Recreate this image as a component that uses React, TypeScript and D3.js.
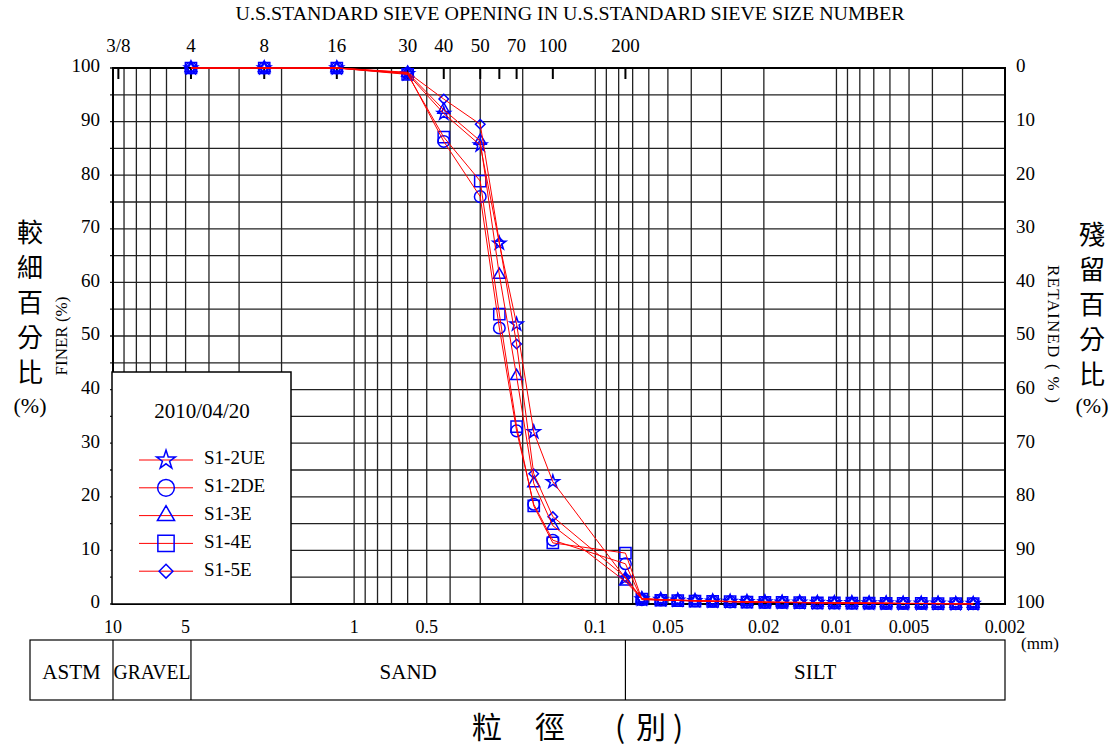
import React from "react";
import * as d3 from "d3";

const sieveSizes = [4.75, 2.36, 1.18, 0.6, 0.425, 0.3, 0.25, 0.212, 0.18, 0.15, 0.075];
const hydroSizes = [0.0641, 0.0535, 0.0455, 0.0386, 0.0326, 0.0276, 0.0235, 0.0198, 0.0168, 0.0142,
  0.0120, 0.0102, 0.00863, 0.00732, 0.00622, 0.00529, 0.00445, 0.00379, 0.0032, 0.00271];

const s12UE = [100, 100, 100, 98.9, 91.5, 85.6, 67.3, 52.2, 32.1, 22.8, 4.8];
const s12DE = [100, 100, 100, 99.0, 86.3, 76.0, 51.5, 32.3, 18.6, 11.9, 7.5];
const s13E = [100, 100, 100, 99.1, 92.2, 86.4, 61.4, 42.5, 22.5, 14.6, 4.2];
const s14E = [100, 100, 100, 98.8, 87.1, 78.9, 54.1, 33.1, 18.3, 11.4, 9.5];
const s15E = [100, 100, 100, 99.2, 94.2, 89.5, 67.5, 48.5, 24.3, 16.3, 5.0];

const h12UE = [0.9, 0.8, 0.7, 0.6, 0.5, 0.45, 0.4, 0.35, 0.3, 0.3, 0.25, 0.2, 0.2, 0.15, 0.15, 0.1, 0.1, 0.1, 0.05, 0.05];
const h12DE = [0.8, 0.75, 0.65, 0.6, 0.5, 0.4, 0.4, 0.3, 0.3, 0.25, 0.2, 0.2, 0.15, 0.15, 0.1, 0.1, 0.1, 0.05, 0.05, 0.05];
const h13E = [1.0, 0.8, 0.7, 0.6, 0.55, 0.45, 0.4, 0.35, 0.3, 0.3, 0.25, 0.2, 0.2, 0.15, 0.15, 0.1, 0.1, 0.1, 0.05, 0.05];
const h14E = [0.9, 0.7, 0.65, 0.55, 0.5, 0.45, 0.35, 0.3, 0.3, 0.25, 0.2, 0.2, 0.15, 0.15, 0.1, 0.1, 0.1, 0.05, 0.05, 0.05];
const h15E = [1.0, 0.85, 0.75, 0.65, 0.55, 0.5, 0.4, 0.35, 0.3, 0.3, 0.25, 0.2, 0.2, 0.15, 0.15, 0.1, 0.1, 0.1, 0.05, 0.05];

const seriesNames = ["S1-2UE", "S1-2DE", "S1-3E", "S1-4E", "S1-5E"];
const seriesSieve = [s12UE, s12DE, s13E, s14E, s15E];
const seriesHydro = [h12UE, h12DE, h13E, h14E, h15E];

const sieveLabels = ["3/8", "4", "8", "16", "30", "40", "50", "70", "100", "200"];
const sieveLabelSizes = [9.5, 4.75, 2.36, 1.18, 0.6, 0.425, 0.3, 0.212, 0.15, 0.075];
const sieveTickSizes = [9.5, 4.75, 2.36, 1.18, 0.6, 0.425, 0.3, 0.25, 0.212, 0.15, 0.075];

const bottomTicks = [10, 5, 1, 0.5, 0.1, 0.05, 0.02, 0.01, 0.005, 0.002];
const yTicks = [0, 10, 20, 30, 40, 50, 60, 70, 80, 90, 100];

const classBounds = [10, 4.75, 0.075, 0.002];
const classNames = ["GRAVEL", "SAND", "SILT"];

const SERIF = "'Liberation Serif', 'Times New Roman', serif";
const CJK = "'Noto Sans CJK TC', 'Noto Sans CJK SC', sans-serif";

const L = 113, R = 1005, T = 68, B = 604;

function symbolFor(i: number, size: number) {
  const types = [d3.symbolStar, d3.symbolCircle, d3.symbolTriangle, d3.symbolSquare, (d3 as any).symbolDiamond2 || d3.symbolDiamond];
  const sizes = [size * 0.5, size, size * 0.58, size * 1.2, size * 0.55];
  return d3.symbol().type(types[i]).size(sizes[i])() as string;
}

export default function App() {
  const x = d3.scaleLog().domain([10, 0.002]).range([L, R]);
  const y = d3.scaleLinear().domain([0, 100]).range([B, T]);

  const gridX: number[] = [];
  for (let e = 1; e >= -3; e--) {
    for (let m = 1; m <= 9; m++) {
      const v = m * Math.pow(10, e - 1);
      if (v <= 10 && v >= 0.002) gridX.push(v);
    }
  }
  gridX.push(10);
  const gridY = d3.range(0, 101, 5);

  const line = d3.line<[number, number]>().x(d => x(d[0])).y(d => y(d[1]));
  const allSizes = sieveSizes.concat(hydroSizes);
  const series = seriesNames.map((n, i) => ({
    name: n,
    pts: allSizes.map((s, j) => [s, j < sieveSizes.length ? seriesSieve[i][j] : seriesHydro[i][j - sieveSizes.length]] as [number, number]),
  }));

  const legendRows = seriesNames.map((n, i) => ({ n, i, yy: 460 + i * 27.8 }));

  return (
    <svg width={1117} height={749} style={{ position: "absolute", left: 0, top: 0, background: "#fff" }}>
      <rect x={0} y={0} width={1117} height={749} fill="#fff" />
      {/* grid */}
      {gridY.map(v => (
        <line key={"gy" + v} x1={L - 3} x2={R} y1={y(v)} y2={y(v)} stroke="#222" strokeWidth={1.3} />
      ))}
      {gridX.map((v, k) => (
        <line key={"gx" + k} x1={x(v)} x2={x(v)} y1={T} y2={B} stroke="#222" strokeWidth={1.3} />
      ))}
      {/* sieve ticks */}
      {sieveTickSizes.map((v, k) => (
        <line key={"st" + k} x1={x(v)} x2={x(v)} y1={T} y2={T + 11} stroke="#000" strokeWidth={2} />
      ))}
      <rect x={L} y={T} width={R - L} height={B - T} fill="none" stroke="#000" strokeWidth={2} />

      {/* markers */}
      {series.map((s, i) => (
        <g key={"m" + i}>
          {s.pts.map((p, j) => (
            <path key={j} d={symbolFor(i, 105)} transform={`translate(${x(p[0])},${y(p[1])})`} fill="none" stroke="#0000ff" strokeWidth={1.5} />
          ))}
        </g>
      ))}
      {/* lines */}
      {series.map((s, i) => (
        <path key={"l" + i} d={line(s.pts) as string} fill="none" stroke="#ff0000" strokeWidth={1} />
      ))}

      {/* legend */}
      <rect x={112} y={372} width={179} height={232} fill="#fff" stroke="#000" strokeWidth={1.5} />
      <text x={202} y={413} fontFamily={SERIF} fontSize={21} textAnchor="middle" dominantBaseline="middle">2010/04/20</text>
      {legendRows.map(r => (
        <g key={"lg" + r.i}>
          <line x1={139} x2={193} y1={r.yy} y2={r.yy} stroke="#ff0000" strokeWidth={1} />
          <path d={symbolFor(r.i, 220)} transform={`translate(166,${r.yy})`} fill="none" stroke="#0000ff" strokeWidth={1.5} />
          <text x={204} y={r.yy} fontFamily={SERIF} fontSize={19} dominantBaseline="middle">{r.n}</text>
        </g>
      ))}

      {/* title */}
      <text x={570} y={16} fontFamily={SERIF} fontSize={18} textAnchor="middle" dominantBaseline="middle" textLength={669} lengthAdjust="spacingAndGlyphs">U.S.STANDARD SIEVE OPENING IN U.S.STANDARD SIEVE SIZE NUMBER</text>
      {sieveLabels.map((t, k) => (
        <text key={"sl" + k} x={x(sieveLabelSizes[k])} y={48} fontFamily={SERIF} fontSize={19} textAnchor="middle" dominantBaseline="middle">{t}</text>
      ))}

      {/* y axes */}
      {yTicks.map(v => (
        <text key={"yl" + v} x={100} y={y(v)} fontFamily={SERIF} fontSize={19} textAnchor="end" dominantBaseline="middle">{v}</text>
      ))}
      {yTicks.map(v => (
        <text key={"yr" + v} x={1016} y={y(v)} fontFamily={SERIF} fontSize={19} textAnchor="start" dominantBaseline="middle">{100 - v}</text>
      ))}

      {/* bottom ticks */}
      {bottomTicks.map((v, k) => (
        <text key={"bt" + k} x={x(v)} y={629} fontFamily={SERIF} fontSize={18} textAnchor="middle" dominantBaseline="middle">{String(v)}</text>
      ))}
      <text x={1040} y={645} fontFamily={SERIF} fontSize={17} textAnchor="middle" dominantBaseline="middle">(mm)</text>

      {/* left label */}
      {["較", "細", "百", "分", "比"].map((c, k) => (
        <text key={"lc" + k} x={30} y={235 + k * 35} fontFamily={CJK} fontSize={26} textAnchor="middle" dominantBaseline="middle">{c}</text>
      ))}
      <text x={30} y={408} fontFamily={SERIF} fontSize={22} textAnchor="middle" dominantBaseline="middle">(%)</text>
      <text transform="translate(63,336) rotate(-90)" fontFamily={SERIF} fontSize={17} textAnchor="middle" dominantBaseline="middle">FINER (%)</text>

      {/* right label */}
      {["殘", "留", "百", "分", "比"].map((c, k) => (
        <text key={"rc" + k} x={1092} y={237 + k * 35} fontFamily={CJK} fontSize={26} textAnchor="middle" dominantBaseline="middle">{c}</text>
      ))}
      <text x={1092} y={408} fontFamily={SERIF} fontSize={22} textAnchor="middle" dominantBaseline="middle">(%)</text>
      <text transform="translate(1052,334) rotate(90)" fontFamily={SERIF} fontSize={17} textAnchor="middle" dominantBaseline="middle" textLength={138} lengthAdjust="spacing">RETAINED ( % )</text>

      {/* classification table */}
      <rect x={30} y={640} width={R - 30} height={60} fill="none" stroke="#000" strokeWidth={1.2} />
      <line x1={L} x2={L} y1={640} y2={700} stroke="#000" strokeWidth={1.2} />
      {classBounds.slice(1, 3).map((v, k) => (
        <line key={"cb" + k} x1={x(v)} x2={x(v)} y1={640} y2={700} stroke="#000" strokeWidth={1.2} />
      ))}
      <text x={(30 + L) / 2} y={674} fontFamily={SERIF} fontSize={21} textAnchor="middle" dominantBaseline="middle">ASTM</text>
      {classNames.map((n, k) => {
        const cx = (x(classBounds[k]) + x(classBounds[k + 1])) / 2;
        return (
          <text key={"cn" + k} x={cx} y={674} fontFamily={SERIF} fontSize={21} textAnchor="middle" dominantBaseline="middle"
            {...(n === "GRAVEL" ? { textLength: 77, lengthAdjust: "spacingAndGlyphs" } : {})}>{n}</text>
        );
      })}
      {[["粒", 487], ["徑", 550], ["(", 620], ["別", 651], [")", 678]].map(([c, cx], k) => (
        <text key={"xt" + k} x={cx as number} y={730} fontFamily={CJK} fontSize={30} textAnchor="middle" dominantBaseline="middle">{c as string}</text>
      ))}
    </svg>
  );
}
